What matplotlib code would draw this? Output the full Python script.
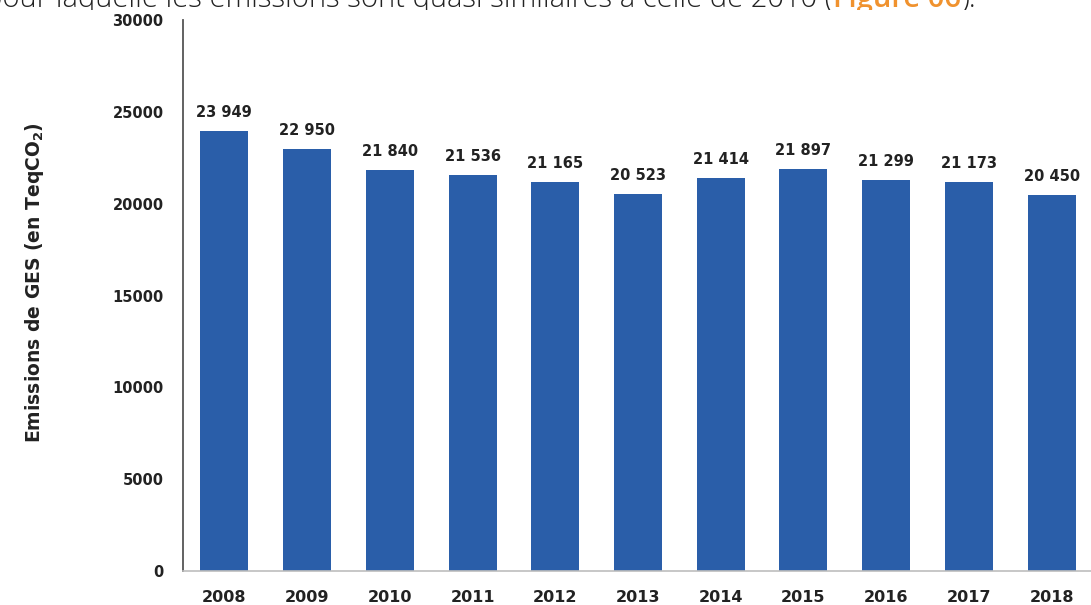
import matplotlib
matplotlib.use("Agg")
import matplotlib.pyplot as plt
from matplotlib.patches import Rectangle

years = ["2008", "2009", "2010", "2011", "2012", "2013", "2014", "2015", "2016", "2017", "2018"]
emissions = [23949, 22950, 21840, 21536, 21165, 20523, 21414, 21897, 21299, 21173, 20450]
y_ticks = [0, 5000, 10000, 15000, 20000, 25000, 30000]

bar_color = "#2a5ea9"

fig = plt.figure(figsize=(10.91, 6.05), dpi=100)
fig.patch.set_facecolor("white")

W, H = 1091, 605
left, right, bottom, top = 183, 1093, 571, 20
ax = fig.add_axes([left / W, (H - bottom) / H, (right - left) / W, (bottom - top) / H])
ax.set_zorder(3)
ax.patch.set_alpha(0)

x = list(range(len(years)))
ax.bar(x, emissions, width=0.58, color=bar_color, zorder=2)

ax.set_xlim(-0.5, len(years) - 0.5)
ax.set_ylim(0, 30000)
ax.set_yticks(y_ticks)
ax.set_yticklabels([str(v) for v in y_ticks])
ax.set_xticks(x)
ax.set_xticklabels(years)

for lab in ax.get_yticklabels():
    lab.set_fontsize(10.5)
    lab.set_fontweight("bold")
    lab.set_color("#222222")
for lab in ax.get_xticklabels():
    lab.set_fontsize(11.5)
    lab.set_fontweight("bold")
    lab.set_color("#222222")

ax.tick_params(axis="y", length=0, pad=14)
ax.tick_params(axis="x", length=0, pad=14)

for s in ["top", "right"]:
    ax.spines[s].set_visible(False)
ax.spines["left"].set_color("#555555")
ax.spines["left"].set_linewidth(1.3)
ax.spines["bottom"].set_color("#bdbdbd")
ax.spines["bottom"].set_linewidth(1.2)

# value labels with a space as thousands separator
for xi, v in zip(x, emissions):
    txt = f"{v:,}".replace(",", " ")
    ax.annotate(txt, (xi, v), xytext=(0, 8), textcoords="offset points",
                ha="center", va="bottom", fontsize=10.5, fontweight="bold",
                color="#222222")

fig.text(35 / W, 1 - 283 / H, "Emissions de GES (en TeqCO$_\\mathbf{2}$)",
         rotation=90, ha="center", va="center", fontsize=13.5, fontweight="bold",
         color="#222222", zorder=4)

# running sentence above the chart, its lower part hidden under the chart panel
renderer = fig.canvas.get_renderer()
parts = [("pour laquelle les émissions sont quasi similaires à celle de 2010 (", "#222222", "light"),
         ("Figure 06", "#f0922e", "semibold"),
         (").", "#222222", "light")]
xpos = -15
ybase = 1 - 6.5 / H
for s, col, wt in parts:
    t = fig.text(xpos / W, ybase, s, ha="left", va="baseline", fontsize=21,
                 family="Open Sans", fontweight=wt, color=col, zorder=1)
    bb = t.get_window_extent(renderer)
    xpos += bb.width

fig.add_artist(Rectangle((0, 0), 1, 1 - 10 / H, transform=fig.transFigure,
                         facecolor="white", edgecolor="none", zorder=2))

fig.savefig("out.png", dpi=100, facecolor="white")
